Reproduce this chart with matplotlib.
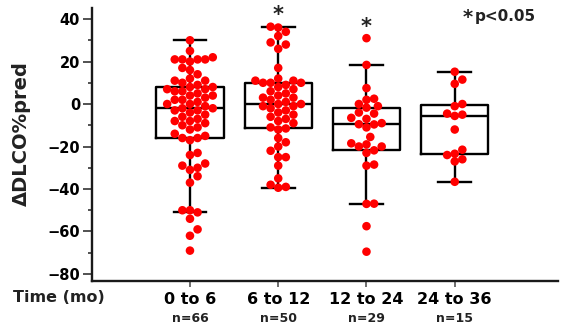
import matplotlib
matplotlib.use("Agg")
import matplotlib.pyplot as plt
import numpy as np

# datos
grupos = ["0 to 6", "6 to 12", "12 to 24", "24 to 36"]
n_txt = ["n=66", "n=50", "n=29", "n=15"]

g1 = [-69, -62, -59, -54, -51, -50, -50, -37, -34, -31, -30, -29, -28, -24, -23, -17,
      -16, -16, -15, -14, -12, -11, -10, -9, -8, -8, -7, -6, -5, -4, -3, -3,
      -2, -2, -1, 0, 0, 1, 2, 2, 3, 4, 4, 5, 6, 6, 7, 7,
      8, 8, 9, 10, 11, 11, 12, 14, 16, 17, 20, 21, 21, 21, 21, 22, 25, 30]
g2 = [-39.4, -39, -38, -35, -29, -25, -25, -22, -20, -18, -16, -12, -11.5, -11,
      -9, -8, -7, -6, -5, -4, -3, -2, -1, -1, 0, 0, 1, 2, 3, 3, 4, 5, 6, 7, 8, 9,
      10, 10, 10, 11, 11, 12, 17, 26, 28, 29, 32, 34, 36, 36.4]
g3 = [-69.5, -57.5, -47, -46.9, -29, -28.5, -23, -21.8, -20, -20, -19, -18.5, -15.5,
      -11, -9.6, -9.5, -9, -7, -6.5, -4.5, -4, -1.7, -1, 0, 2, 2.5, 7.5, 18.4, 31]
g4 = [-36.6, -27, -26, -24, -23.4, -21.5, -12, -5.6, -5, -4.5, -1, 0, 9.5, 11.5, 15.2]

datos = [g1, g2, g3, g4]
signif = [False, True, True, False]

W, H = 561, 328
fig = plt.figure(figsize=(W / 100, H / 100), dpi=100)
ax = fig.add_axes([92 / W, 1 - 281 / H, (558 - 92) / W, (281 - 8) / H])

xlim = (-1.11, 4.17)
ylim = (-83.3, 45.2)
ax.set_xlim(xlim)
ax.set_ylim(ylim)

# pixeles por unidad
px_x = (558 - 92) / (xlim[1] - xlim[0])
px_y = (281 - 8) / (ylim[1] - ylim[0])
diam = 7.6  # distancia minima entre centros en px


def enjambre(vals):
    # offsets horizontales tipo beeswarm
    vals = np.asarray(vals, dtype=float)
    orden = np.argsort(vals)
    puestos = []
    offs = np.zeros(len(vals))
    paso = 0.5 * diam / px_x
    for i in orden:
        y = vals[i]
        k = 0
        while True:
            cands = [0.0] if k == 0 else [k * paso, -k * paso]
            ok = None
            for c in cands:
                bien = True
                for (xo, yo) in puestos:
                    dx = (c - xo) * px_x
                    dy = (y - yo) * px_y
                    if dx * dx + dy * dy < diam * diam:
                        bien = False
                        break
                if bien:
                    ok = c
                    break
            if ok is not None:
                break
            k += 1
        offs[i] = ok
        puestos.append((ok, y))
    return offs


pos = np.arange(len(grupos))
ax.boxplot(datos, positions=pos, widths=0.76, capwidths=0.37, showfliers=False,
           patch_artist=False, zorder=2,
           boxprops=dict(color="black", linewidth=1.7),
           medianprops=dict(color="black", linewidth=1.7),
           whiskerprops=dict(color="black", linewidth=1.7),
           capprops=dict(color="black", linewidth=1.7))

for i, d in enumerate(datos):
    off = enjambre(d)
    ax.scatter(pos[i] + off, d, s=38, color="#ff0000", edgecolors="none", zorder=3)
    if signif[i]:
        ax.annotate("*", (pos[i], max(d)), xytext=(0, 1), textcoords="offset points",
                    ha="center", va="bottom", fontsize=15, fontweight="bold", color="#222222")

for s in ["top", "right"]:
    ax.spines[s].set_visible(False)
for s in ["left", "bottom"]:
    ax.spines[s].set_linewidth(1.7)
    ax.spines[s].set_color("#1a1a1a")

ax.set_yticks(np.arange(-80, 41, 20))
ax.set_yticks(np.arange(-70, 41, 20), minor=True)
ax.tick_params(axis="y", which="major", length=6.5, width=1.2, color="#333333",
               labelsize=10.5, pad=2)
ax.tick_params(axis="y", which="minor", length=3, width=1.2, color="#333333")
for t in ax.get_yticklabels():
    t.set_fontweight("bold")

ax.set_xticks(pos)
ax.set_xticklabels(grupos, fontsize=11.5, fontweight="bold")
ax.tick_params(axis="x", length=4, width=1.2, color="#555555", pad=4)

for i, t in enumerate(n_txt):
    ax.text(pos[i], -0.115, t, transform=ax.get_xaxis_transform(), ha="center",
            va="top", fontsize=9, fontweight="bold", color="#222222")

fig.text(13 / W, 1 - 298 / H, "Time (mo)", ha="left", va="center", fontsize=11.5,
         fontweight="bold", color="#222222")
fig.text(21 / W, 1 - 134 / H, "ΔDLCO%pred", rotation=90, ha="center", va="center",
         fontsize=14, fontweight="bold", color="#222222")

fig.text(468 / W, 1 - 17 / H, "*", ha="center", va="center", fontsize=14,
         fontweight="bold", color="#222222")
fig.text(475 / W, 1 - 17 / H, "p<0.05", ha="left", va="center", fontsize=11,
         fontweight="bold", color="#222222")

plt.savefig("out.png", dpi=100)
